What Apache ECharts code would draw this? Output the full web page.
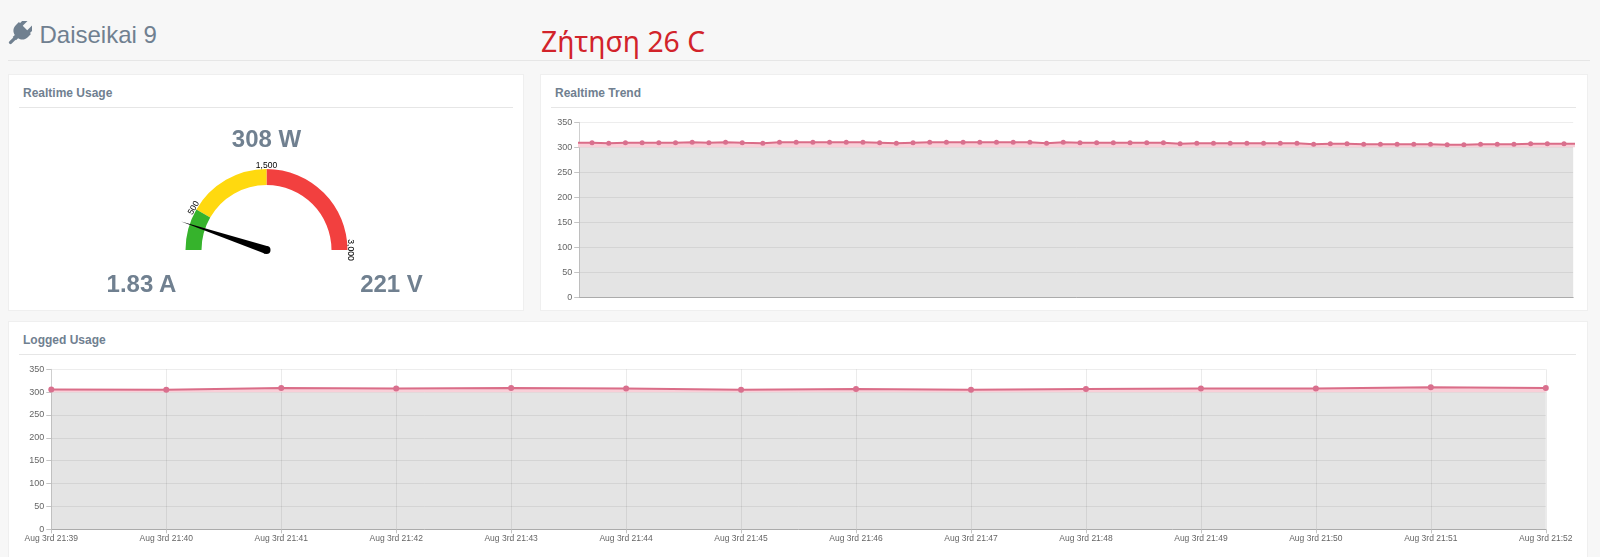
<!DOCTYPE html>
<html>
<head>
<meta charset="utf-8">
<title>Daiseikai 9</title>
<script src="https://cdn.jsdelivr.net/npm/echarts@6/dist/echarts.min.js"></script>
<style>
    html, body { margin: 0; padding: 0; width: 1600px; height: 557px; overflow: hidden; background: #f7f7f7; }
    body { position: relative; font-family: "Liberation Sans", Arial, sans-serif; color: #708090; }
    .abs { position: absolute; white-space: nowrap; }
    .panel { position: absolute; background: #fff; border: 1px solid #efefef; box-sizing: border-box; }
    .rule { position: absolute; height: 1px; background: #e6e6e6; }
    .panel-title { font-size: 12px; font-weight: bold; line-height: 14px; }
    .reading { font-size: 24px; font-weight: bold; line-height: 28px; transform: translateX(-50%); }
    .chart { position: absolute; }
</style>
</head>
<body>
<svg class="abs" style="left:8px;top:21px" width="24" height="24" viewBox="0 0 24 24">
    <g fill="#708090" transform="rotate(45 12 12)">
        <rect x="5" y="-3.5" width="3.8" height="10" rx="1.6"/>
        <rect x="15.2" y="-3.5" width="3.8" height="10" rx="1.6"/>
        <path d="M3.5 5h17v4.5c0 4.5-3.2 7-6.2 7.5v3h-4.6v-3c-3-.5-6.2-3-6.2-7.5z"/>
        <rect x="10.4" y="17" width="3.2" height="10" rx="1.4"/>
    </g>
</svg>
<div class="abs" style="left:39.5px;top:20.5px;font-size:24px;line-height:28px">Daiseikai 9</div>
<div class="abs" style="left:541px;top:22px;font-family:'Noto Sans';font-size:28.3px;line-height:38px;color:#d2232a">Ζήτηση 26 C</div>
<div class="rule" style="left:8px;top:60px;width:1582px"></div>

<div class="panel" style="left:8px;top:74px;width:516px;height:237px"></div>
<div class="panel" style="left:540px;top:74px;width:1048px;height:237px"></div>
<div class="panel" style="left:8px;top:321px;width:1580px;height:240px"></div>

<div class="abs panel-title" style="left:23px;top:86px">Realtime Usage</div>
<div class="abs panel-title" style="left:555px;top:86px">Realtime Trend</div>
<div class="abs panel-title" style="left:23px;top:333px">Logged Usage</div>
<div class="rule" style="left:19px;top:107px;width:494px"></div>
<div class="rule" style="left:551px;top:107px;width:1025px"></div>
<div class="rule" style="left:19px;top:354px;width:1557px"></div>

<div id="gauge" class="chart" style="left:9px;top:108px;width:514px;height:202px"></div>
<div id="trend" class="chart" style="left:541px;top:108px;width:1046px;height:202px"></div>
<div id="logged" class="chart" style="left:9px;top:355px;width:1578px;height:202px"></div>

<div class="abs reading" style="left:266.5px;top:125px">308 W</div>
<div class="abs reading" style="left:141.5px;top:270px">1.83 A</div>
<div class="abs reading" style="left:391.5px;top:270px">221 V</div>

<script>
const powerNow = 308;
const gaugeMax = 3000;
const gaugeLabels = [500, 1500, 3000];
const gaugeBands = [
    [500, "#36b32c"],
    [1500, "#ffd90f"],
    [3000, "#f2403f"],
];

const yTop = 350;
const yStep = 50;
const bandTop = 300; // grey block under the line stops here

// realtime samples, seconds since the first visible one. first and last sit just outside the plot
const trendTimes = [
    -1, 0, 1, 2, 3, 4, 5, 6, 7, 8, 9, 10.23, 11.23, 12.23, 13.23, 14.23, 15.23, 16.23, 17.23, 18.23,
    19.23, 20.23, 21.23, 22.23, 23.23, 24.23, 25.23, 26.23, 27.23, 28.23, 29.23, 30.23, 31.23, 32.23,
    33.23, 34.23, 35.23, 36.23, 37.23, 38.23, 39.23, 40.23, 41.23, 42.23, 43.23, 44.23, 45.23, 46.23,
    47.23, 48.23, 49.23, 50.23, 51.23, 52.23, 53.23, 54.23, 55.23, 56.23, 57.23, 58.23, 59.23,
];
const trendWatts = [
    309, 309, 308, 309, 309, 309, 309, 310, 309, 310, 309, 308, 310, 310, 310, 310, 310, 310, 309, 308,
    309, 310, 310, 310, 310, 310, 310, 310, 308, 310, 309, 309, 309, 309, 309, 309, 307, 308, 308, 308,
    308, 308, 308, 308, 306, 307, 307, 306, 306, 306, 306, 306, 305, 305, 306, 306, 306, 307, 307, 307, 307,
];

const loggedTimes = [
    "Aug 3rd 21:39", "Aug 3rd 21:40", "Aug 3rd 21:41", "Aug 3rd 21:42", "Aug 3rd 21:43",
    "Aug 3rd 21:44", "Aug 3rd 21:45", "Aug 3rd 21:46", "Aug 3rd 21:47", "Aug 3rd 21:48",
    "Aug 3rd 21:49", "Aug 3rd 21:50", "Aug 3rd 21:51", "Aug 3rd 21:52",
];
const loggedWatts = [306, 305, 309, 308, 309, 308, 305, 307, 305, 307, 308, 308, 311, 309];

const font = "Liberation Sans";

function yAxis() {
    return {
        type: "value",
        min: 0,
        max: yTop,
        interval: yStep,
        axisLine: { show: true, onZero: false, lineStyle: { color: "#cfcfcf" } },
        axisTick: { show: true, length: 5, lineStyle: { color: "#c4c4c4" } },
        axisLabel: { fontSize: 9, fontFamily: font, color: "#666", margin: 7 },
        splitLine: { lineStyle: { color: "rgba(0,0,0,0.07)" } },
    };
}

function usageSeries(data, symbolSize) {
    return {
        type: "line",
        data,
        symbol: "circle",
        symbolSize,
        showAllSymbol: true,
        smooth: false,
        clip: true,
        animation: false,
        silent: true,
        lineStyle: { color: "#da6d88", width: 2 },
        itemStyle: { color: "#d9708e" },
        areaStyle: { origin: bandTop, color: "#f9cfd8", opacity: 1 },
        markArea: {
            silent: true,
            animation: false,
            itemStyle: { color: "rgba(0,0,0,0.105)" },
            data: [[{ yAxis: 0 }, { yAxis: bandTop }]],
        },
    };
}

const gaugeChart = echarts.init(document.getElementById("gauge"));
gaugeChart.setOption({
    animation: false,
    series: [
        {
            type: "gauge",
            center: [257.5, 142],
            radius: 81,
            min: 0,
            max: gaugeMax,
            startAngle: 180,
            endAngle: 0,
            splitNumber: gaugeMax / gaugeLabels[0],
            axisLine: {
                lineStyle: {
                    width: 16,
                    color: gaugeBands.map(([upTo, color]) => [upTo / gaugeMax, color]),
                },
            },
            axisTick: { show: false },
            splitLine: { show: false },
            axisLabel: {
                distance: -23,
                fontSize: 8.5,
                fontFamily: font,
                color: "#000",
                rotate: "tangential",
                formatter: (v) => (gaugeLabels.includes(v) ? v.toLocaleString("en-US") : ""),
            },
            pointer: { icon: "triangle", length: 90, width: 8, itemStyle: { color: "#000" } },
            anchor: { show: true, showAbove: true, size: 8, itemStyle: { color: "#000", borderWidth: 0 } },
            title: { show: false },
            detail: { show: false },
            data: [{ value: powerNow }],
        },
    ],
});

const trendChart = echarts.init(document.getElementById("trend"));
trendChart.setOption({
    animation: false,
    grid: { left: 38.2, top: 14.3, width: 994, height: 175 },
    xAxis: {
        type: "value",
        min: -0.77,
        max: 58.78,
        axisLine: { onZero: false, lineStyle: { color: "#b0b0b0" } },
        axisTick: { show: false },
        axisLabel: { show: false },
        splitLine: { show: false },
    },
    yAxis: yAxis(),
    series: [usageSeries(trendTimes.map((t, i) => [t, trendWatts[i]]), 5)],
});

const loggedChart = echarts.init(document.getElementById("logged"));
loggedChart.setOption({
    animation: false,
    grid: { left: 42.3, top: 14.3, width: 1494.5, height: 160 },
    xAxis: {
        type: "category",
        data: loggedTimes,
        boundaryGap: false,
        axisLine: { lineStyle: { color: "#b0b0b0" } },
        axisTick: { length: 4, lineStyle: { color: "#c4c4c4" } },
        axisLabel: { interval: 0, fontSize: 8.5, fontFamily: font, color: "#666", margin: 5 },
        splitLine: { show: true, lineStyle: { color: "rgba(0,0,0,0.08)" } },
    },
    yAxis: yAxis(),
    series: [usageSeries(loggedWatts, 6)],
});
</script>
</body>
</html>
